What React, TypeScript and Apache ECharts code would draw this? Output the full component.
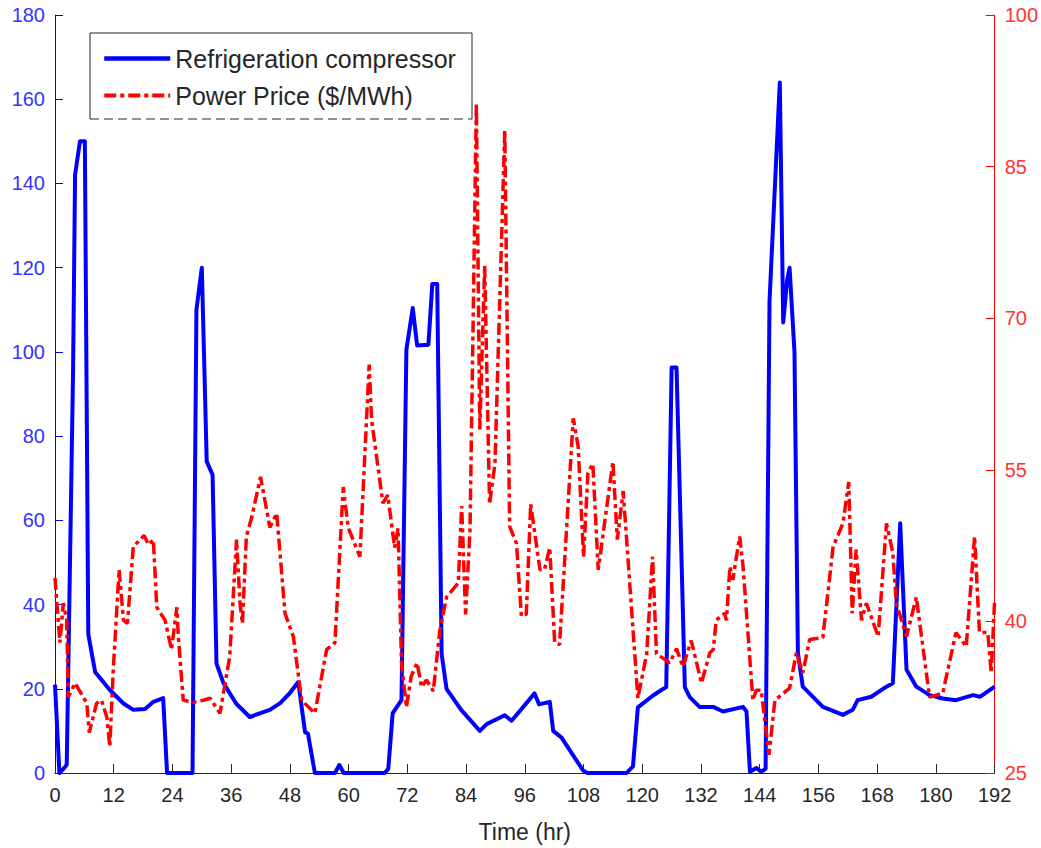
import React, { useEffect, useRef } from "react";
import * as echarts from "echarts";

const compressorHours = [0, 0.9, 1.9, 2.4, 3.7, 4.1, 5.1, 6.1, 6.8, 8.2, 11.2, 14, 16, 18.4, 20.1, 22.1, 22.9, 28.1, 28.9, 30, 31, 32.2, 33, 34.4, 37, 39.8, 43.9, 46, 48, 49.7, 51.1, 51.7, 53.1, 57.2, 58.1, 59, 67.4, 68.1, 69, 70.8, 71.8, 73.1, 74, 76.3, 77.1, 78.1, 79, 80, 83, 86.8, 88.2, 91.9, 93.3, 98, 98.9, 101.1, 101.8, 103.5, 107.9, 108.8, 116.8, 118.1, 119.1, 122.2, 123.9, 124.9, 126, 127, 128.7, 129.7, 131.7, 134.5, 136.5, 140.6, 141.3, 142, 143.3, 144.3, 145.2, 146, 148.1, 148.8, 149.6, 150.1, 151.1, 151.8, 152.8, 156.9, 161, 163, 164, 166.8, 169.9, 171.2, 172.7, 174, 176, 178.7, 181.4, 184.1, 187.6, 189, 192];
const compressorValues = [21, 0, 1.2, 2, 96, 142, 150, 150, 33, 24, 19.7, 16.5, 15, 15.2, 16.9, 17.8, 0, 0, 110, 120, 74, 70.8, 26, 21.4, 16.5, 13.3, 15, 16.6, 19, 21.6, 9.7, 9.3, 0, 0, 1.9, 0, 0, 1, 14.2, 17.3, 100.5, 110.4, 101.5, 101.7, 116.1, 116.1, 28.3, 20, 15, 10, 11.6, 13.7, 12.4, 18.9, 16.3, 16.9, 10, 8.4, 0.6, 0, 0, 1.6, 15.6, 18.4, 19.7, 20.4, 96.3, 96.3, 20.4, 18, 15.7, 15.7, 14.6, 15.7, 14.6, 0.3, 1.2, 0.3, 1, 112, 164, 107, 117, 120, 100, 28.5, 20.5, 15.7, 13.8, 15, 17.3, 18.1, 20.5, 21.3, 59.3, 24.5, 20.5, 18.5, 17.7, 17.3, 18.5, 18.1, 20.5];

const priceHours = [0, 0.7, 1.0, 1.7, 2.4, 2.7, 4.1, 6.5, 7.0, 8.5, 9.5, 10.6, 11.2, 11.9, 13.1, 14.0, 14.8, 16.0, 18.2, 19.1, 20.1, 20.8, 22.5, 23.8, 24.9, 25.2, 26.2, 28.3, 30.3, 31.7, 33.7, 35.7, 37.1, 37.8, 38.3, 39.1, 40.2, 42.0, 43.9, 45.3, 47.0, 48.7, 50.4, 53.1, 55.5, 57.2, 58.9, 59.9, 62.3, 64.2, 64.7, 67.0, 68.0, 69.4, 70.1, 70.8, 71.8, 72.8, 74.0, 74.9, 75.9, 77.3, 78.6, 80.0, 82.4, 83.1, 83.9, 84.8, 86.1, 86.8, 87.8, 88.8, 89.9, 91.9, 92.9, 94.3, 95.3, 96.3, 97.2, 99.1, 100.0, 101.1, 102.1, 103.1, 105.9, 106.9, 108.0, 108.9, 109.9, 111.0, 114.0, 114.9, 116.1, 119.1, 120.9, 122.1, 122.9, 125.6, 127.0, 128.3, 130.0, 132.1, 133.8, 134.5, 135.1, 136.8, 137.2, 137.9, 138.5, 139.9, 140.6, 142.6, 143.3, 144.3, 145.9, 147.1, 150.1, 151.5, 152.8, 154.2, 156.9, 159.0, 161.0, 162.2, 162.9, 163.7, 164.8, 165.8, 168.2, 169.9, 171.2, 171.9, 174.0, 176.0, 178.7, 181.4, 184.1, 186.2, 187.9, 188.9, 190.6, 191.3, 192.0];
const priceValues = [44.3, 39.8, 37.9, 41.8, 40.1, 32.5, 33.9, 31.9, 29.0, 31.9, 32.2, 30.5, 27.6, 35.2, 45.1, 40.1, 39.8, 47.4, 48.5, 47.6, 48.1, 41.4, 40.1, 37.2, 41.4, 38.5, 32.2, 32.0, 32.2, 32.4, 30.9, 36.5, 48.1, 41.8, 39.8, 48.4, 50.3, 54.3, 49.3, 50.7, 40.8, 38.5, 32.2, 30.9, 37.2, 37.9, 53.3, 49.3, 46.4, 65.4, 59.9, 51.7, 52.5, 47.3, 49.2, 35.9, 31.5, 34.6, 35.9, 33.5, 34.2, 33.1, 39.0, 42.4, 43.8, 51.4, 40.7, 49.0, 91.3, 59.0, 75.2, 51.6, 55.6, 88.6, 49.4, 47.7, 40.5, 40.7, 51.6, 45.1, 45.1, 47.3, 37.9, 37.7, 60.1, 57.3, 46.4, 54.7, 55.6, 45.1, 55.8, 48.1, 52.9, 32.4, 36.8, 46.4, 36.8, 35.9, 37.3, 35.5, 38.1, 33.9, 36.9, 37.2, 40.1, 40.8, 40.1, 45.4, 44.1, 48.4, 45.4, 32.2, 33.2, 33.2, 26.8, 32.2, 33.4, 36.9, 34.9, 38.2, 38.4, 47.4, 49.7, 53.8, 40.8, 47.1, 40.1, 41.8, 38.5, 49.7, 46.8, 41.8, 38.5, 42.4, 32.5, 32.9, 38.9, 37.5, 48.4, 38.9, 38.9, 34.9, 42.1];

const seriesNames = ["Refrigeration compressor", "Power Price ($/MWh)"];
const xTitle = "Time (hr)";

const FONT = "'Liberation Sans', Arial, Helvetica, sans-serif";
const GRAY = "#262626";
const BLUE = "#0000ff";
const RED = "#ff0000";
const RED_DASH = [12, 4, 4, 4];

export default function App() {
  const ref = useRef<HTMLDivElement>(null);
  useEffect(() => {
    if (!ref.current) return;
    const chart = echarts.init(ref.current, undefined, { renderer: "svg" });
    const compData = compressorHours.map((h, i) => [h, compressorValues[i]]);
    const priceData = priceHours.map((h, i) => [h, priceValues[i]]);
    chart.setOption({
      animation: false,
      backgroundColor: "#ffffff",
      textStyle: { fontFamily: FONT },
      grid: { left: 55, right: 46, top: 15, bottom: 75, containLabel: false },
      legend: {
        left: 90,
        top: 33,
        orient: "vertical",
        padding: [13, 9, 10, 12],
        itemGap: 12,
        itemWidth: 66,
        itemHeight: 22,
        backgroundColor: "#ffffff",
        borderWidth: 0,
        itemStyle: { opacity: 0 },
        textStyle: { fontSize: 25, color: GRAY, fontFamily: FONT },
        data: [
          { name: seriesNames[0], lineStyle: { color: BLUE, width: 4.5 } },
          { name: seriesNames[1], lineStyle: { color: RED, width: 4, type: RED_DASH } },
        ],
      },
      graphic: [
        {
          type: "polyline",
          shape: { points: [[90, 119], [90, 33], [472, 33], [472, 119]] },
          style: { stroke: GRAY, lineWidth: 1, fill: null },
          z: 100,
        },
        {
          type: "line",
          shape: { x1: 90, y1: 119, x2: 472, y2: 119 },
          style: { stroke: GRAY, lineWidth: 1, lineDash: [9, 5] },
          z: 100,
        },
      ],
      xAxis: {
        type: "value",
        min: 0,
        max: 192,
        interval: 12,
        name: xTitle,
        nameLocation: "middle",
        nameGap: 47,
        nameTextStyle: { fontSize: 23, color: GRAY, fontFamily: FONT },
        axisLine: { show: true, onZero: false, lineStyle: { color: GRAY, width: 1 } },
        axisTick: { show: true, inside: true, length: 9, lineStyle: { color: GRAY } },
        axisLabel: { fontSize: 20, color: GRAY, margin: 12, fontFamily: FONT },
        splitLine: { show: false },
      },
      yAxis: [
        {
          type: "value",
          min: 0,
          max: 180,
          interval: 20,
          position: "left",
          axisLine: { show: true, lineStyle: { color: BLUE, width: 1 } },
          axisTick: { show: true, inside: true, length: 8, lineStyle: { color: BLUE } },
          axisLabel: { fontSize: 20, color: "#3333ff", margin: 10, fontFamily: FONT },
          splitLine: { show: false },
        },
        {
          type: "value",
          min: 25,
          max: 100,
          interval: 15,
          position: "right",
          axisLine: { show: true, lineStyle: { color: RED, width: 1 } },
          axisTick: { show: true, inside: true, length: 9, lineStyle: { color: RED } },
          axisLabel: { fontSize: 20, color: "#ff3333", margin: 10, fontFamily: FONT },
          splitLine: { show: false },
        },
      ],
      series: [
        {
          name: seriesNames[0],
          type: "line",
          yAxisIndex: 0,
          data: compData,
          symbol: "none",
          showSymbol: false,
          color: BLUE,
          lineStyle: { color: BLUE, width: 4, join: "round" },
          z: 2,
        },
        {
          name: seriesNames[1],
          type: "line",
          yAxisIndex: 1,
          data: priceData,
          symbol: "none",
          showSymbol: false,
          color: RED,
          lineStyle: { color: RED, width: 3.5, type: RED_DASH },
          z: 3,
        },
      ],
    });
    return () => chart.dispose();
  }, []);
  return (
    <div
      ref={ref}
      style={{ position: "fixed", left: 0, top: 0, width: 1041, height: 848, background: "#fff" }}
    />
  );
}
